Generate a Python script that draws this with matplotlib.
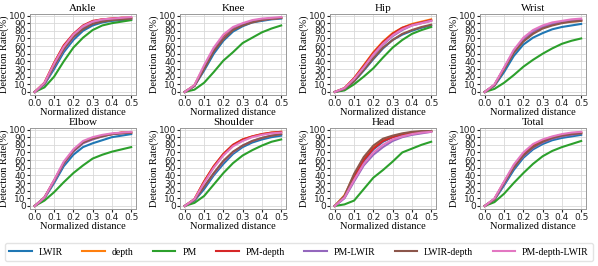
import numpy as np
import matplotlib
matplotlib.use("Agg")
import matplotlib.pyplot as plt

plt.rcParams['font.family'] = ['DejaVu Sans']

x = [0.0, 0.05, 0.1, 0.15, 0.2, 0.25, 0.3, 0.35, 0.4, 0.45, 0.5]
methods = ['LWIR', 'depth', 'PM', 'PM-depth', 'PM-LWIR', 'LWIR-depth', 'PM-depth-LWIR']
colors = ['#1f77b4', '#ff7f0e', '#2ca02c', '#d62728', '#9467bd', '#8c564b', '#e377c2']
titles = ['Ankle', 'Knee', 'Hip', 'Wrist', 'Elbow', 'Shoulder', 'Head', 'Total']

# rows follow the order of `methods`
ankle = [
    [0, 10, 30, 52, 68, 80, 87, 91, 93, 94, 95],
    [0, 12, 38, 60, 75, 86, 92, 95, 96, 97, 97],
    [0, 6, 20, 40, 58, 71, 81, 87, 90, 92, 94],
    [0, 12, 38, 61, 76, 87, 93, 95, 96, 97, 97],
    [0, 10, 33, 55, 71, 83, 90, 93, 95, 96, 96],
    [0, 11, 34, 56, 72, 82, 89, 92, 94, 95, 96],
    [0, 12, 37, 59, 75, 86, 92, 95, 96, 97, 98],
]
knee = [
    [0, 8, 28, 50, 67, 79, 86, 91, 93, 95, 96],
    [0, 9, 33, 56, 72, 83, 89, 93, 95, 96, 97],
    [0, 3, 12, 26, 41, 52, 64, 71, 78, 83, 87],
    [0, 8, 32, 55, 71, 82, 88, 92, 95, 96, 97],
    [0, 8, 31, 54, 70, 82, 88, 92, 94, 96, 97],
    [0, 8, 30, 53, 69, 81, 87, 91, 94, 96, 97],
    [0, 9, 35, 58, 75, 85, 90, 94, 96, 97, 98],
]
hip = [
    [0, 3, 14, 28, 43, 57, 68, 75, 80, 84, 87],
    [0, 5, 18, 35, 52, 66, 77, 84, 89, 92, 95],
    [0, 2, 10, 20, 31, 45, 58, 68, 76, 81, 85],
    [0, 5, 18, 34, 51, 65, 76, 84, 88, 91, 94],
    [0, 4, 16, 32, 48, 62, 73, 81, 87, 90, 93],
    [0, 4, 14, 29, 44, 58, 68, 76, 81, 85, 88],
    [0, 5, 17, 32, 49, 63, 74, 82, 87, 90, 93],
]
wrist = [
    [0, 8, 26, 47, 62, 71, 77, 82, 85, 87, 89],
    [0, 9, 30, 52, 67, 77, 84, 88, 91, 92, 93],
    [0, 4, 12, 22, 33, 42, 50, 57, 63, 67, 70],
    [0, 9, 31, 53, 69, 79, 85, 89, 91, 93, 94],
    [0, 9, 31, 53, 69, 79, 85, 89, 92, 93, 94],
    [0, 9, 30, 51, 66, 76, 83, 87, 90, 92, 93],
    [0, 10, 32, 55, 71, 81, 87, 91, 93, 95, 96],
]
elbow = [
    [0, 10, 30, 52, 67, 77, 82, 86, 90, 92, 94],
    [0, 11, 33, 56, 72, 83, 88, 92, 94, 96, 96],
    [0, 7, 18, 31, 43, 53, 62, 67, 71, 74, 77],
    [0, 11, 33, 56, 72, 83, 88, 92, 94, 96, 96],
    [0, 11, 32, 55, 71, 82, 87, 91, 94, 95, 96],
    [0, 11, 33, 56, 72, 83, 88, 91, 94, 95, 96],
    [0, 11, 34, 58, 74, 85, 90, 93, 95, 96, 97],
]
shoulder = [
    [0, 7, 22, 40, 55, 68, 77, 83, 87, 90, 92],
    [0, 9, 32, 52, 68, 80, 87, 91, 94, 96, 97],
    [0, 4, 13, 28, 43, 56, 66, 73, 79, 84, 87],
    [0, 9, 32, 52, 68, 80, 87, 91, 94, 96, 97],
    [0, 8, 25, 42, 58, 70, 79, 85, 89, 92, 94],
    [0, 8, 25, 43, 59, 71, 79, 85, 89, 92, 94],
    [0, 9, 30, 50, 66, 78, 85, 90, 93, 95, 96],
]
head = [
    [0, 11, 35, 58, 74, 84, 90, 93, 95, 97, 98],
    [0, 14, 40, 62, 77, 87, 91, 94, 96, 97, 98],
    [0, 2, 7, 22, 37, 47, 58, 70, 75, 80, 84],
    [0, 12, 38, 60, 75, 85, 90, 94, 96, 97, 98],
    [0, 10, 32, 53, 67, 77, 85, 90, 93, 95, 97],
    [0, 13, 42, 64, 79, 88, 92, 95, 97, 98, 98],
    [0, 11, 34, 55, 70, 80, 87, 91, 94, 96, 97],
]
total = [
    [0, 8, 27, 47, 63, 74, 81, 86, 89, 91, 93],
    [0, 9, 31, 52, 68, 79, 86, 90, 93, 95, 96],
    [0, 5, 16, 30, 43, 55, 65, 72, 77, 81, 85],
    [0, 9, 31, 52, 68, 79, 86, 90, 93, 95, 96],
    [0, 9, 29, 50, 65, 76, 83, 88, 91, 93, 95],
    [0, 9, 30, 50, 66, 77, 84, 89, 92, 94, 95],
    [0, 10, 32, 54, 70, 81, 87, 91, 94, 96, 97],
]
panels = [ankle, knee, hip, wrist, elbow, shoulder, head, total]

serif = ['Liberation Serif', 'DejaVu Serif']
fig = plt.figure(figsize=(5.98, 2.66), dpi=100)
W, H = 598.0, 266.0
lefts = [30, 180, 330, 480]
tops = [14, 128]
aw, ah = 106, 81

handles = None
for k, (name, data) in enumerate(zip(titles, panels)):
    r, c = divmod(k, 4)
    ax = fig.add_axes([lefts[c] / W, 1 - (tops[r] + ah) / H, aw / W, ah / H])
    lines = []
    for m, col, ys in zip(methods, colors, data):
        ln, = ax.plot(x, ys, color=col, lw=1.5, label=m)
        lines.append(ln)
    handles = lines
    ax.set_xlim(-0.025, 0.525)
    ax.set_ylim(-4, 102)
    ax.set_xticks([0.0, 0.1, 0.2, 0.3, 0.4, 0.5])
    ax.set_yticks(range(0, 101, 10))
    ax.tick_params(labelsize=6.5, length=2, pad=1, colors='#222222')
    ax.grid(color='#d9d9d9', lw=0.6)
    ax.set_axisbelow(True)
    for s in ax.spines.values():
        s.set_color('#999999')
        s.set_linewidth(0.7)
    ax.set_title(name, fontsize=8, family=serif, pad=2)
    ax.set_xlabel('Normalized distance', fontsize=7.5, family=serif, labelpad=0)
    ax.set_ylabel('Detection Rate(%)', fontsize=7.5, family=serif, labelpad=0)

fig.legend(handles, methods, loc='lower left',
           bbox_to_anchor=(5 / W, 5 / H, 588 / W, 20 / H), mode='expand',
           borderaxespad=0, ncol=7, prop={'family': serif, 'size': 7},
           frameon=True, edgecolor='#dddddd', handlelength=2.3,
           handletextpad=0.7, borderpad=0.45)

fig.savefig('out.png', dpi=100)
